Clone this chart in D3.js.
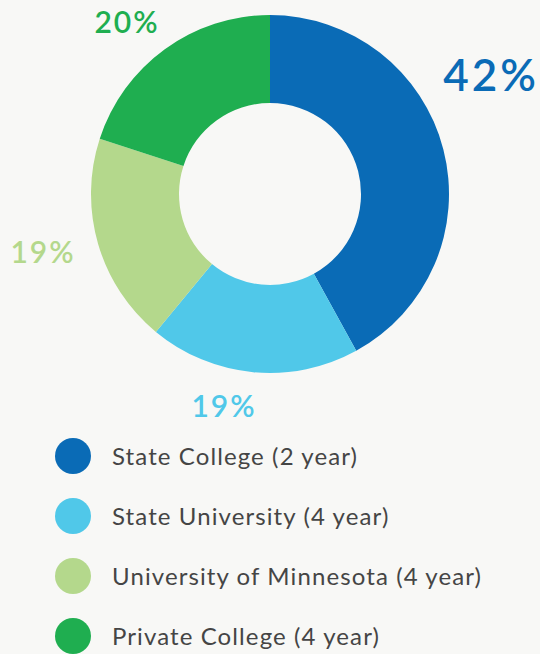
<!DOCTYPE html>
<html>
<head>
<meta charset="utf-8">
<script src="https://cdn.jsdelivr.net/npm/d3@7"></script>
<style>
  html, body { margin: 0; padding: 0; background: #f8f8f6; }
  svg { display: block; }
</style>
</head>
<body>
<div id="chart"></div>
<script>
// data
const categories = ['State College (2 year)', 'State University (4 year)', 'University of Minnesota (4 year)', 'Private College (4 year)'];
const shares = [42, 19, 19, 20];
const colors = ['#0a6bb6', '#50c8e9', '#b4d88c', '#1fae50'];

const config = {
  width: 540,
  height: 654,
  cx: 270,
  cy: 194,
  outer: 179,
  inner: 91,
  legend: { x: 73, y: 456, step: 60, r: 18, textX: 112 }
};

// where each percent label sits (center, baseline)
const labelPos = [
  { x: 491, y: 91, size: 44, spacing: 3 },
  { x: 224, y: 417, size: 30, spacing: 2 },
  { x: 43, y: 263, size: 30, spacing: 2 },
  { x: 127, y: 33, size: 30, spacing: 2 }
];

const font = 'Lato, "Open Sans", sans-serif';

let svg = d3.select('#chart')
  .append('svg')
  .attr('width', config.width)
  .attr('height', config.height);

let pie = d3.pie().sort(null).value(d => d);
let arc = d3.arc().innerRadius(config.inner).outerRadius(config.outer);

let g = svg.append('g')
  .attr('transform', `translate(${config.cx},${config.cy})`);

g.selectAll('path')
  .data(pie(shares))
  .enter()
  .append('path')
  .attr('d', arc)
  .style('fill', (d, i) => colors[i]);

svg.selectAll('text.pct')
  .data(shares)
  .enter()
  .append('text')
  .attr('class', 'pct')
  .attr('x', (d, i) => labelPos[i].x)
  .attr('y', (d, i) => labelPos[i].y)
  .attr('text-anchor', 'middle')
  .style('font-family', font)
  .style('font-size', (d, i) => labelPos[i].size + 'px')
  .style('letter-spacing', (d, i) => labelPos[i].spacing + 'px')
  .style('font-weight', 600)
  .style('fill', (d, i) => colors[i])
  .text(d => d + '%');

// legend
let legend = svg.selectAll('g.item')
  .data(categories)
  .enter()
  .append('g')
  .attr('class', 'item')
  .attr('transform', (d, i) => `translate(0,${config.legend.y + i * config.legend.step})`);

legend.append('circle')
  .attr('cx', config.legend.x)
  .attr('cy', 0)
  .attr('r', config.legend.r)
  .style('fill', (d, i) => colors[i]);

legend.append('text')
  .attr('x', config.legend.textX)
  .attr('y', 9)
  .style('font-family', font)
  .style('font-size', '24px')
  .style('letter-spacing', '1.1px')
  .style('fill', '#454545')
  .text(d => d);
</script>
</body>
</html>
